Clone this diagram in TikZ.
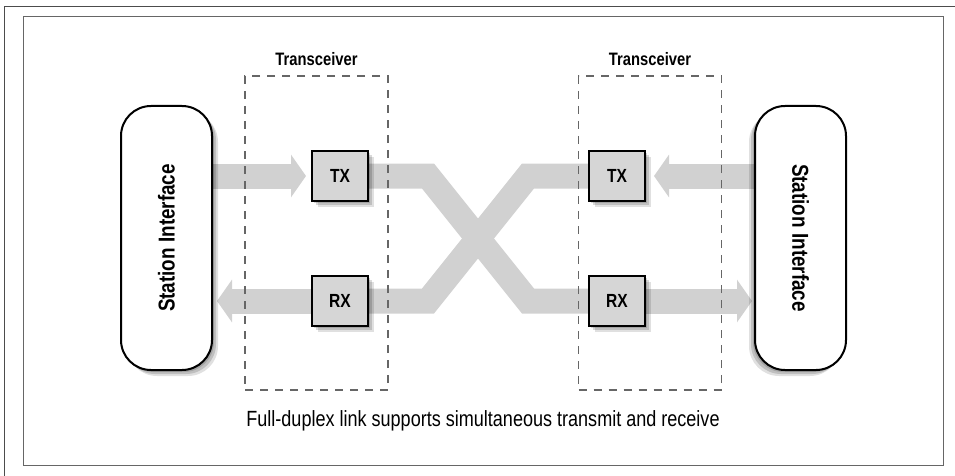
\documentclass[tikz,border=0pt]{standalone}
\usepackage{fontspec}
\setmainfont[FakeStretch=0.82]{Liberation Sans}
\usetikzlibrary{arrows.meta,shadows,positioning,backgrounds}

\tikzset{
  softshadow/.style={
    drop shadow={shadow xshift=#1*2pt, shadow yshift=-2pt, fill=black, opacity=.15},
    drop shadow={shadow xshift=#1*4pt, shadow yshift=-4pt, fill=black, opacity=.15},
    drop shadow={shadow xshift=#1*6pt, shadow yshift=-6pt, fill=black, opacity=.12}},
  station/.style={draw=black, line width=2pt, fill=white, rounded corners=30pt,
    minimum width=91pt, minimum height=264pt, inner sep=0pt},
  xcvr/.style={draw=black!60, dash pattern=on 8pt off 7pt, line width=1.4pt,
    minimum width=143pt, minimum height=314pt, inner sep=0pt},
  port/.style={draw=black, line width=2pt, fill=black!16, minimum width=56pt,
    minimum height=50pt, inner sep=0pt, softshadow=1,
    font=\bfseries\fontsize{19}{19}\selectfont},
  band/.style={draw=black!18, line width=25pt, line join=miter},
  bandtip/.style={-{Triangle[width=42pt,length=15pt]}},
  title/.style={font=\bfseries\fontsize{18}{18}\selectfont}
}

\begin{document}
\begin{tikzpicture}[x=1pt,y=-1pt]
  \useasboundingbox (0,0) rectangle (955,476);
  % frames
  \draw[black!70, line width=1pt] (4,476) -- (4,7) -- (955,7);
  \draw[black!60, line width=1pt] (23,17) rectangle (943,465);

  % transceivers
  \node[xcvr, label={[title, label distance=6pt]above:Transceiver}] (xcL) at (316.5,233) {};
  \node[xcvr, label={[title, label distance=6pt]above:Transceiver}] (xcR) at (650,233) {};

  % stations
  \node[station, softshadow=1,
    label={[rotate=90, font=\bfseries\fontsize{23}{23}\selectfont]center:Station Interface}]
    (stL) at (166.5,238) {};
  \node[station, softshadow=-1,
    label={[rotate=-90, font=\bfseries\fontsize{23}{23}\selectfont]center:Station Interface}]
    (stR) at (800.5,238) {};

  % ports
  \node[port] (txL) at (340,176) {TX};
  \node[port] (rxL) at (340,301) {RX};
  \node[port] (txR) at (617,176) {TX};
  \node[port] (rxR) at (617,301) {RX};

  \coordinate (kTL) at (428,176);
  \coordinate (kBL) at (428,301);
  \coordinate (kTR) at (528,176);
  \coordinate (kBR) at (528,301);

  \begin{scope}[on background layer]
    \draw[band, bandtip, shorten >=5pt] (stL.center |- txL) -- (txL);
    \draw[band, bandtip, shorten >=8pt] (stR.center |- txR) -- (txR);
    \draw[band, bandtip, shorten >=4pt] (rxL) -- (stL.east |- rxL);
    \draw[band, bandtip, shorten >=2pt] (rxR) -- (stR.west |- rxR);
    % crossing link
    \draw[band] (txL.center) -- (kTL) -- (kBR) -- (rxR.center);
    \draw[band] (rxL.center) -- (kBL) -- (kTR) -- (txR.center);
  \end{scope}

  \node[font=\fontsize{22}{22}\selectfont] (cap) at (483,421)
    {Full-duplex link supports simultaneous transmit and receive};
\end{tikzpicture}
\end{document}
